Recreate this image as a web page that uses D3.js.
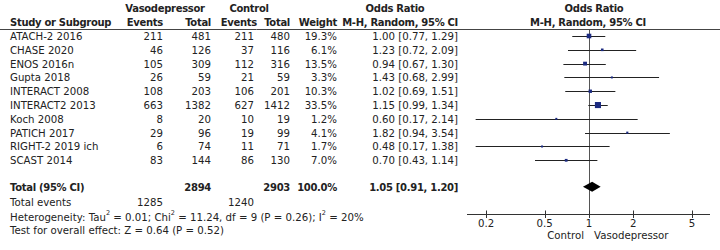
<!DOCTYPE html>
<html><head><meta charset="utf-8">
<script src="https://cdn.jsdelivr.net/npm/d3@7"></script>
<style>
body{margin:0;background:#fff;}
svg text{font-family:"DejaVu Sans",sans-serif;font-size:10.2px;fill:#222;}
svg text.b{font-weight:bold;font-size:10px;letter-spacing:-0.3px;}
</style></head>
<body><svg id="c" width="720" height="250"></svg>
<script>
const studies = ["ATACH-2 2016","CHASE 2020","ENOS 2016n","Gupta 2018","INTERACT 2008","INTERACT2 2013","Koch 2008","PATICH 2017","RIGHT-2 2019 ich","SCAST 2014"];
const vasoEvents = [211,46,105,26,108,663,8,29,6,83];
const vasoTotal = [481,126,309,59,203,1382,20,96,74,144];
const ctrlEvents = [211,37,112,21,106,627,10,19,11,86];
const ctrlTotal = [480,116,316,59,201,1412,19,99,71,130];
const weights = [19.3,6.1,13.5,3.3,10.3,33.5,1.2,4.1,1.7,7.0];
const orVal = [1.00,1.23,0.94,1.43,1.02,1.15,0.60,1.82,0.48,0.70];
const ciLow = [0.77,0.72,0.67,0.68,0.69,0.99,0.17,0.94,0.17,0.43];
const ciHigh = [1.29,2.09,1.30,2.99,1.51,1.34,2.14,3.54,1.38,1.14];
const total = {vasoTotal:2894, ctrlTotal:2903, weight:"100.0%", or:1.05, lo:0.91, hi:1.20, vasoEvents:1285, ctrlEvents:1240};
const axisTicks = [0.2,0.5,1,2,5];

const svg = d3.select("#c");
const x = d3.scaleLog().domain([1/Math.pow(10,121/147.3), Math.pow(10,121/147.3)]).range([468,710]);
const y = d3.scaleLinear().domain([0,9]).range([36,160.3]);
const fmt2 = d3.format(".2f");

const colEnd = {ve:163, vt:211, ce:254, ct:290, w:337, or:458};

function t(xp, yp, s, anchor, bold){
  return svg.append("text").attr("x",xp).attr("y",yp).attr("dominant-baseline","central")
    .attr("text-anchor",anchor||"start").attr("class",bold?"b":null).text(s);
}
t(165,8,"Vasodepressor","middle",true);
t(249,8,"Control","middle",true);
t(395,8,"Odds Ratio","middle",true);
t(594,8,"Odds Ratio","middle",true);
t(10,22,"Study or Subgroup","start",true);
t(colEnd.ve,22,"Events","end",true);
t(colEnd.vt,22,"Total","end",true);
t(colEnd.ce+3,22,"Events","end",true);
t(colEnd.ct,22,"Total","end",true);
t(colEnd.w,22,"Weight","end",true);
t(colEnd.or,22,"M-H, Random, 95% CI","end",true);
t(588,22,"M-H, Random, 95% CI","middle",true);

svg.append("line").attr("x1",0).attr("x2",720).attr("y1",29.5).attr("y2",29.5).attr("stroke","#444").attr("stroke-width",1);

svg.append("line").attr("x1",Math.round(x(1))+0.5).attr("x2",Math.round(x(1))+0.5).attr("y1",30).attr("y2",214)
  .attr("stroke","#555").attr("stroke-width",1);

studies.forEach((s,i)=>{
  const yy = y(i)+0.5;
  t(10,yy,s);
  t(colEnd.ve,yy,vasoEvents[i],"end");
  t(colEnd.vt,yy,vasoTotal[i],"end");
  t(colEnd.ce,yy,ctrlEvents[i],"end");
  t(colEnd.ct,yy,ctrlTotal[i],"end");
  t(colEnd.w,yy,weights[i].toFixed(1)+"%","end");
  t(colEnd.or,yy,`${fmt2(orVal[i])} [${fmt2(ciLow[i])}, ${fmt2(ciHigh[i])}]`,"end");
  const ly = Math.round(y(i))+0.5;
  svg.append("line").attr("x1",x(ciLow[i])).attr("x2",x(ciHigh[i])).attr("y1",ly).attr("y2",ly)
    .attr("stroke","#222").attr("stroke-width",1);
  const side = Math.max(2, Math.sqrt(weights[i])*1.05);
  svg.append("rect").attr("x",x(orVal[i])-side/2).attr("y",y(i)-side/2).attr("width",side).attr("height",side)
    .attr("fill","#1b2a80");
});

const ty = 187;
t(10,ty,"Total (95% CI)","start",true);
t(colEnd.vt,ty,total.vasoTotal,"end",true);
t(colEnd.ct,ty,total.ctrlTotal,"end",true);
t(colEnd.w,ty,total.weight,"end",true);
t(colEnd.or,ty,`${fmt2(total.or)} [${fmt2(total.lo)}, ${fmt2(total.hi)}]`,"end",true);
svg.append("path").attr("d",`M${x(total.lo)},${ty-0.3} L${x(total.or)},${ty-5.3} L${x(total.hi)},${ty-0.3} L${x(total.or)},${ty+4.7} Z`).attr("fill","#000");

t(10,202,"Total events");
t(colEnd.ve,202,total.vasoEvents,"end");
t(colEnd.ce,202,total.ctrlEvents,"end");

const het = svg.append("text").attr("x",10).attr("y",216.5).attr("dominant-baseline","central");
het.append("tspan").text("Heterogeneity: Tau");
het.append("tspan").attr("dy",-4).style("font-size","6.5px").text("2");
het.append("tspan").attr("dy",4).text(" = 0.01; Chi");
het.append("tspan").attr("dy",-4).style("font-size","6.5px").text("2");
het.append("tspan").attr("dy",4).text(" = 11.24, df = 9 (P = 0.26); I");
het.append("tspan").attr("dy",-4).style("font-size","6.5px").text("2");
het.append("tspan").attr("dy",4).text(" = 20%");
t(10,230,"Test for overall effect: Z = 0.64 (P = 0.52)");

const axY = 214;
const ax = svg.append("g").attr("transform",`translate(0,${axY})`);
ax.append("line").attr("x1",467).attr("x2",710).attr("y1",0.5).attr("y2",0.5).attr("stroke","#333");
ax.selectAll("line.tk").data(axisTicks).enter().append("line").attr("class","tk")
  .attr("x1",d=>Math.round(x(d))+0.5).attr("x2",d=>Math.round(x(d))+0.5).attr("y1",-3.5).attr("y2",4)
  .attr("stroke","#333");
ax.selectAll("text.tl").data(axisTicks).enter().append("text").attr("class","tl")
  .attr("x",d=>x(d)).attr("y",9.5).attr("text-anchor","middle").attr("dominant-baseline","central")
  .text(d=>d);
t(584,235,"Control","end");
t(594,235,"Vasodepressor","start");
</script></body></html>
